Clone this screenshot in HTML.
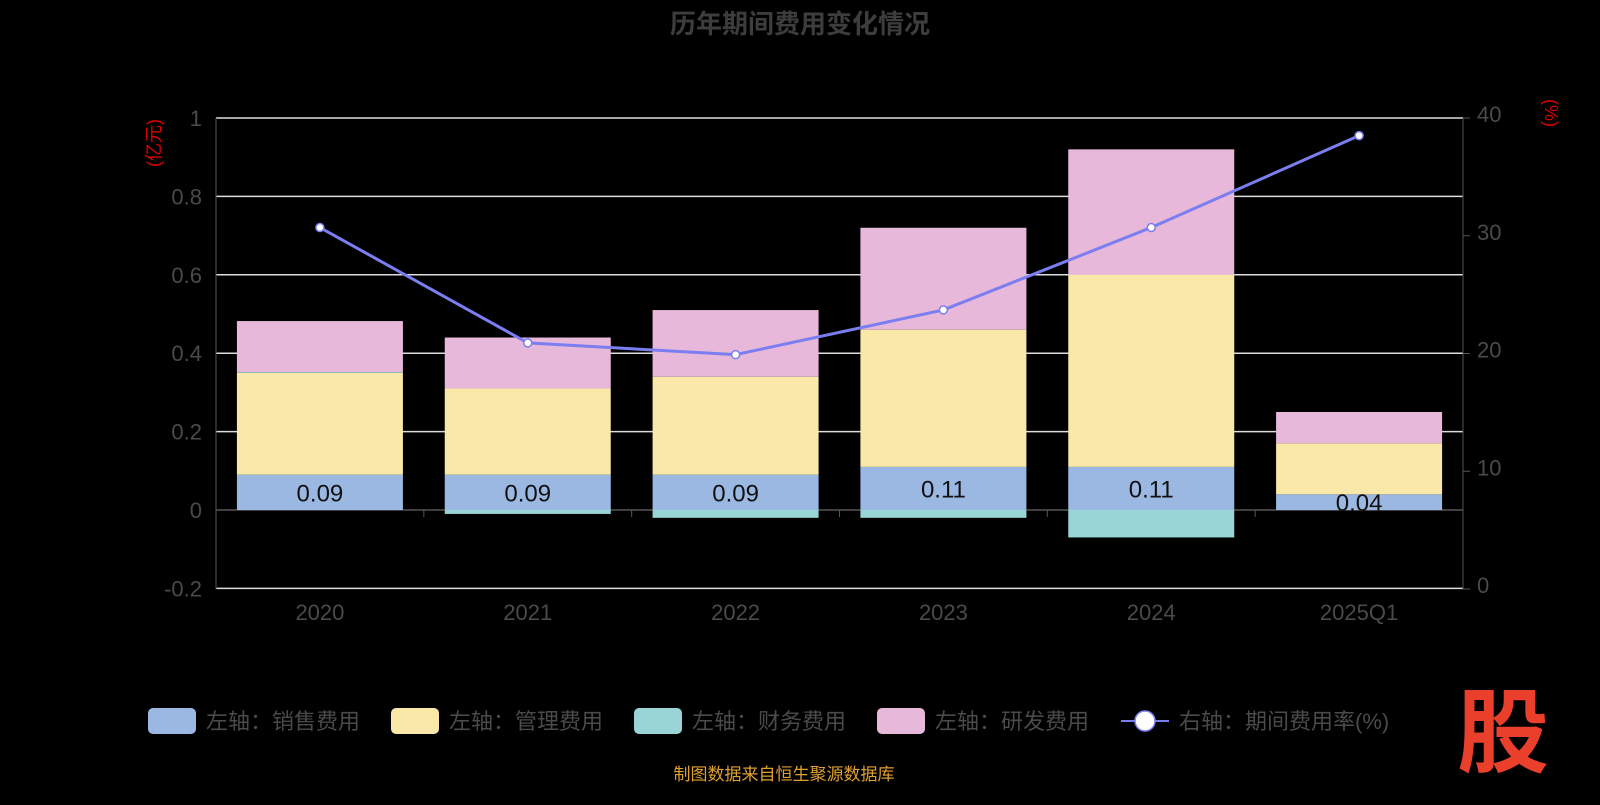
<!DOCTYPE html>
<html><head><meta charset="utf-8"><style>
body{margin:0;background:#000;width:1600px;height:800px;overflow:hidden;font-family:"Liberation Sans","Noto Sans CJK SC",sans-serif}
</style></head><body>
<svg id="c" width="1600" height="800" xmlns="http://www.w3.org/2000/svg"></svg>
<script>
const categories=["2020","2021","2022","2023","2024","2025Q1"];
const sales=[0.09,0.09,0.09,0.11,0.11,0.04];
const mgmt=[0.26,0.22,0.25,0.35,0.49,0.13];
const fin=[0.002,-0.01,-0.02,-0.02,-0.07,0];
const rd=[0.13,0.13,0.17,0.26,0.32,0.08];
const rate=[30.7,20.9,19.9,23.7,30.7,38.5];
const leftTicks=[-0.2,0,0.2,0.4,0.6,0.8,1];
const rightTicks=[0,10,20,30,40];
const NS="http://www.w3.org/2000/svg",svg=document.getElementById('c');
const X0=216,X1=1463,bw=(X1-X0)/categories.length;
const yL=v=>510-v*392,yR=v=>589-v*471/40,xc=i=>X0+bw*(i+0.5);
function el(t,a,txt){const e=document.createElementNS(NS,t);for(const k in a)e.setAttribute(k,a[k]);if(txt!=null)e.textContent=txt;svg.appendChild(e);return e;}
let e=el('text',{x:800,y:33,'text-anchor':'middle','font-size':26,'font-weight':'bold',fill:'#3d3d3d'},'历年期间费用变化情况');


leftTicks.forEach(v=>{
 e=el('line',{x1:X0,x2:X1,y1:yL(v),y2:yL(v),stroke:v===0?'#555':'#ddd','stroke-width':1.5});
 
 
 e=el('text',{x:X0-14,y:yL(v)+8,'text-anchor':'end','font-size':22,fill:'#4a4a4a'},String(v));
 
 
});
rightTicks.forEach(v=>{
 e=el('text',{x:X1+14,y:yR(v)+4,'font-size':22,fill:'#4a4a4a'},String(v));
 
 
 el('line',{x1:X1,x2:X1+7,y1:yR(v),y2:yR(v),stroke:'#555'});
});
el('line',{x1:X0,x2:X0,y1:118,y2:589,stroke:'#555'});
el('line',{x1:X1,x2:X1,y1:118,y2:589,stroke:'#555'});
e=el('text',{x:160,y:143,'font-size':18,fill:'#d00',transform:'rotate(-90 160 143)','text-anchor':'middle'},'(亿元)');


e=el('text',{x:1545,y:113,'font-size':18,fill:'#d00',transform:'rotate(90 1545 113)','text-anchor':'middle'},'(%)');


const cols=['#9bb8e3','#f9e8a8','#99d5d7','#e8b8da'];
categories.forEach((c,i)=>{
 const x=xc(i)-83,w=166;
 if(i>0)el('line',{x1:X0+bw*i,x2:X0+bw*i,y1:510,y2:517,stroke:'#555'});
 let pos=0;
 [[sales,0,'bar-sales'],[mgmt,1,'bar-management'],[fin,2,'bar-finance'],[rd,3,'bar-rd']].forEach(([arr,k,n])=>{
  const v=arr[i];let y0,y1;
  if(v>=0){y0=pos;y1=pos+v;pos=y1;}else{y0=v;y1=0;}
  e=el('rect',{x:x,y:yL(y1),width:w,height:Math.max(0,yL(y0)-yL(y1)),fill:cols[k]});
  
  
 });
 e=el('text',{x:xc(i),y:yL(sales[i]/2)+9,'text-anchor':'middle','font-size':24,fill:'#111'},sales[i].toFixed(2));
 
 
 e=el('text',{x:xc(i),y:620,'text-anchor':'middle','font-size':22,fill:'#4a4a4a'},c);
 
 
});
e=el('polyline',{points:rate.map((v,i)=>xc(i)+','+yR(v)).join(' '),fill:'none',stroke:'#7b7ef0','stroke-width':3});


rate.forEach((v,i)=>{
 e=el('circle',{cx:xc(i),cy:yR(v),r:4,fill:'#fff',stroke:'#7b7ef0','stroke-width':1.5});
 
 
});
const leg=[['左轴：销售费用',148],['左轴：管理费用',391],['左轴：财务费用',634],['左轴：研发费用',877]];
leg.forEach(([t,x],k)=>{
 e=el('rect',{x:x,y:708,width:48,height:26,rx:5,fill:cols[k]});
 
 
 e=el('text',{x:x+58,y:729,'font-size':22,fill:'#4a4a4a'},t);
 
 
});
el('line',{x1:1121,x2:1169,y1:721,y2:721,stroke:'#7b7ef0','stroke-width':2});
el('circle',{cx:1145,cy:721,r:10,fill:'#fff',stroke:'#7b7ef0','stroke-width':1.5});
e=el('text',{x:1179,y:729,'font-size':22,fill:'#4a4a4a'},'右轴：期间费用率(%)');


e=el('text',{x:784,y:780,'text-anchor':'middle','font-size':17,fill:'#e0a030'},'制图数据来自恒生聚源数据库');


e=el('text',{x:1503,y:765,'text-anchor':'middle','font-size':92,'font-weight':'bold',fill:'#ea3f2b'},'股');


</script>
</body></html>
